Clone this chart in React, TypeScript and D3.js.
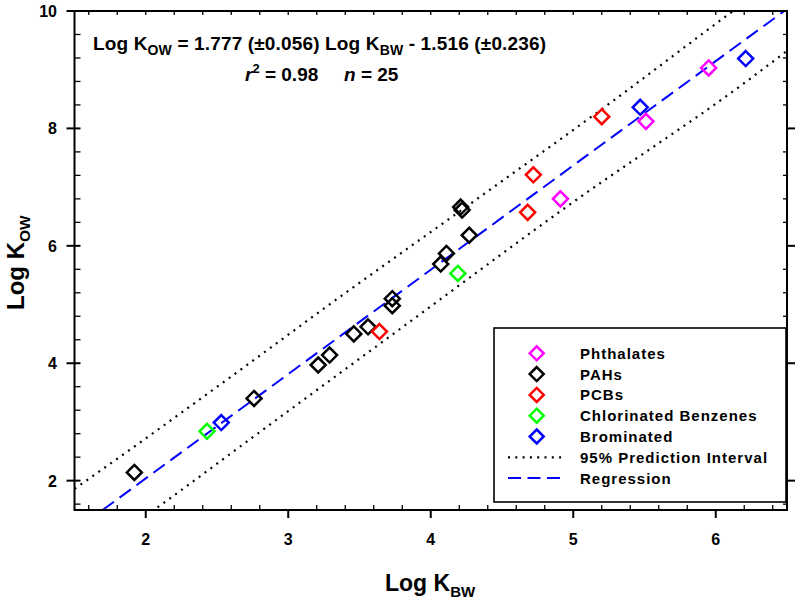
import React from "react";
import * as d3 from "d3";

type Pt = [number, number];

const phthalates: Pt[] = [[4.91, 6.80], [5.51, 8.12], [5.95, 9.03]];
const pahs: Pt[] = [
  [1.92, 2.14], [2.76, 3.40], [3.21, 3.97], [3.29, 4.14], [3.46, 4.50],
  [3.56, 4.62], [3.73, 5.10], [3.73, 4.98], [4.07, 5.69], [4.11, 5.87],
  [4.27, 6.18], [4.21, 6.66], [4.22, 6.61],
];
const pcbs: Pt[] = [[3.64, 4.54], [4.68, 6.57], [4.72, 7.21], [5.20, 8.20]];
const chlorobenzenes: Pt[] = [[2.43, 2.84], [4.19, 5.53]];
const brominated: Pt[] = [[2.53, 2.99], [5.47, 8.36], [6.21, 9.19]];

const piUpper: Pt[] = [[1.5, 1.86], [1.6, 2.03], [2.53, 3.65], [3.34, 5.09], [4.32, 6.79], [5.28, 8.47], [6.06, 9.89], [6.2, 10.14]];
const piLower: Pt[] = [[2.0, 1.40], [2.12, 1.61], [2.79, 2.81], [3.9, 4.79], [4.95, 6.66], [6.21, 8.79], [6.5, 9.32]];

const slope = 1.777;
const intercept = -1.516;

const xMajor = [2, 3, 4, 5, 6];
const yMajor = [2, 4, 6, 8, 10];

const seriesNames = ["Phthalates", "PAHs", "PCBs", "Chlorinated Benzenes", "Brominated"];
const seriesColors = ["#ff00ff", "#000000", "#ff0000", "#00ff00", "#0000ff"];
const seriesData = [phthalates, pahs, pcbs, chlorobenzenes, brominated];

const FONT = "'Liberation Sans', Arial, Helvetica, sans-serif";

export default function App() {
  const x0 = 74.5, x1 = 787, yTop = 11, yBot = 510;
  const xs = d3.scaleLinear().domain([1.5, 6.5]).range([x0, x1]);
  const ys = d3.scaleLinear().domain([1.5, 10]).range([yBot, yTop]);

  const xMinor = d3.range(1.6, 6.45, 0.2).filter((v) => Math.abs(v - Math.round(v)) > 0.05);
  const xAll = d3.range(1.6, 6.45, 0.2);
  const yMinor = d3.range(1.6, 9.9, 0.4).filter((v) => Math.abs(v / 2 - Math.round(v / 2)) > 0.05);

  const line = d3.line<Pt>().x((d) => xs(d[0])).y((d) => ys(d[1])).curve(d3.curveMonotoneX);
  const xStart = (1.5 - intercept) / slope;
  const regPts: Pt[] = [[xStart, slope * xStart + intercept], [6.5, slope * 6.5 + intercept]];
  const regLine = d3.line<Pt>().x((d) => xs(d[0])).y((d) => ys(d[1]));

  const diamond = (cx: number, cy: number, r = 7.5) =>
    `M${cx},${cy - r}L${cx + r},${cy}L${cx},${cy + r}L${cx - r},${cy}Z`;

  const legX = 536.7, legTextX = 580, legY0 = 353.3, legDy = 20.8;

  return (
    <svg width={800} height={604} style={{ position: "absolute", left: 0, top: 0, background: "#fff" }} fontFamily={FONT}>
      <defs>
        <clipPath id="plotclip">
          <rect x={x0} y={yTop} width={x1 - x0} height={yBot - yTop} />
        </clipPath>
      </defs>
      <rect x={0} y={0} width={800} height={604} fill="#fff" />

      <g clipPath="url(#plotclip)">
        <path d={line(piUpper) || ""} fill="none" stroke="#000" strokeWidth={2.2} strokeDasharray="2 5.3" />
        <path d={line(piLower) || ""} fill="none" stroke="#000" strokeWidth={2.2} strokeDasharray="2 5.3" />
        <path d={regLine(regPts) || ""} fill="none" stroke="#0000ff" strokeWidth={2} strokeDasharray="14 7" />
        {seriesData.map((arr, i) =>
          arr.map((d, j) => (
            <path key={`${i}-${j}`} d={diamond(xs(d[0]), ys(d[1]))} fill="none" stroke={seriesColors[i]} strokeWidth={2.5} />
          ))
        )}
      </g>

      {/* frame */}
      <rect x={x0} y={yTop} width={x1 - x0} height={yBot - yTop} fill="none" stroke="#000" strokeWidth={2} />

      {/* bottom axis */}
      {xMinor.map((v) => (
        <line key={`bm${v}`} x1={xs(v)} x2={xs(v)} y1={yBot} y2={yBot - 5} stroke="#000" strokeWidth={1.3} />
      ))}
      {xMajor.map((v) => (
        <g key={`bM${v}`}>
          <line x1={xs(v)} x2={xs(v)} y1={yBot} y2={yBot + 8} stroke="#000" strokeWidth={2} />
          <text x={xs(v)} y={545} textAnchor="middle" fontSize={16} fontWeight="bold">{v}</text>
        </g>
      ))}
      {/* top axis */}
      {xAll.map((v) => (
        <line key={`tm${v}`} x1={xs(v)} x2={xs(v)} y1={yTop} y2={yTop + 4} stroke="#000" strokeWidth={1.3} />
      ))}
      {/* left axis */}
      {yMinor.map((v) => (
        <line key={`lm${v}`} x1={x0} x2={x0 + 6} y1={ys(v)} y2={ys(v)} stroke="#000" strokeWidth={1.3} />
      ))}
      {yMajor.map((v) => (
        <g key={`lM${v}`}>
          <line x1={x0 - 8} x2={x0 + 6} y1={ys(v)} y2={ys(v)} stroke="#000" strokeWidth={2} />
          <text x={57} y={ys(v) + 6} textAnchor="end" fontSize={16} fontWeight="bold">{v}</text>
        </g>
      ))}
      {/* right axis */}
      {yMinor.map((v) => (
        <line key={`rm${v}`} x1={x1} x2={x1 - 4} y1={ys(v)} y2={ys(v)} stroke="#000" strokeWidth={1.3} />
      ))}
      {yMajor.filter((v) => v < 10).map((v) => (
        <line key={`rM${v}`} x1={x1} x2={x1 + 8} y1={ys(v)} y2={ys(v)} stroke="#000" strokeWidth={2} />
      ))}

      {/* axis titles */}
      <text x={385} y={591} fontSize={23} fontWeight="bold">
        Log K<tspan fontSize={15} dy={6}>BW</tspan>
      </text>
      <text transform="translate(24,310) rotate(-90)" fontSize={24} fontWeight="bold">
        Log K<tspan fontSize={15.5} dy={6}>OW</tspan>
      </text>

      {/* equation */}
      <text x={93} y={50} fontSize={19} fontWeight="bold" letterSpacing={0.15}>
        Log K<tspan fontSize={14} dy={5}>OW</tspan>
        <tspan dy={-5}> = 1.777 (±0.056) Log K</tspan>
        <tspan fontSize={14} dy={5}>BW</tspan>
        <tspan dy={-5}> - 1.516 (±0.236)</tspan>
      </text>
      <text x={245} y={81} fontSize={19} fontWeight="bold">
        <tspan fontStyle="italic">r</tspan>
        <tspan fontSize={13} dy={-8}>2</tspan>
        <tspan dy={8}> = 0.98</tspan>
      </text>
      <text x={344} y={81} fontSize={19} fontWeight="bold">
        <tspan fontStyle="italic">n</tspan>
        <tspan> = 25</tspan>
      </text>

      {/* legend */}
      <rect x={494} y={328} width={292} height={174} fill="#fff" stroke="#000" strokeWidth={1.6} />
      {seriesNames.map((name, i) => (
        <g key={name}>
          <path d={diamond(legX, legY0 + i * legDy, 7)} fill="none" stroke={seriesColors[i]} strokeWidth={2.5} />
          <text x={legTextX} y={legY0 + i * legDy + 5.5} fontSize={15} fontWeight="bold" letterSpacing={1}>{name}</text>
        </g>
      ))}
      <line x1={508} x2={562} y1={legY0 + 5 * legDy} y2={legY0 + 5 * legDy} stroke="#000" strokeWidth={2.2} strokeDasharray="2 5.3" />
      <text x={legTextX} y={legY0 + 5 * legDy + 5.5} fontSize={15} fontWeight="bold" letterSpacing={1}>95% Prediction Interval</text>
      <line x1={508} x2={562} y1={legY0 + 6 * legDy} y2={legY0 + 6 * legDy} stroke="#0000ff" strokeWidth={2} strokeDasharray="13 6.5" />
      <text x={legTextX} y={legY0 + 6 * legDy + 5.5} fontSize={15} fontWeight="bold" letterSpacing={1}>Regression</text>
    </svg>
  );
}
